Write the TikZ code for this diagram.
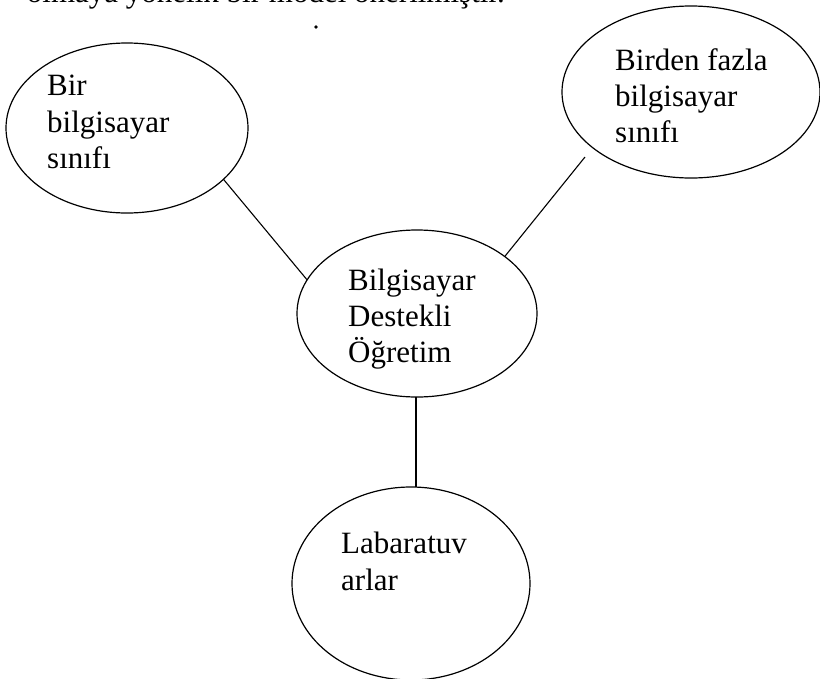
\documentclass[tikz,border=0pt]{standalone}
\usepackage{fontspec}
\setmainfont{Liberation Serif}
\usetikzlibrary{shapes.geometric}
\begin{document}
\begin{tikzpicture}[x=1pt,y=-1pt,
  bubble/.style={draw=black,line width=1.2pt,ellipse,inner sep=0pt,outer sep=0pt},
  lbl/.style={anchor=base west,inner sep=0pt,font=\fontsize{31}{36}\selectfont},
  link/.style={draw=black,line width=1.1pt}]
\useasboundingbox (0,0) rectangle (820,678);
\begin{scope}
\clip (0,0) rectangle (820,678);
% header line cut by the page edge
\node[lbl,anchor=base east] (hdr) at (505,2.5) {olmaya yönelik bir model önerilmiştir.};
\fill (316,27) circle (1.8);
% ellipses
\node[bubble,minimum width=242pt,minimum height=170pt] (tl) at (127,128) {};
\node[bubble,minimum width=258pt,minimum height=172pt] (tr) at (691,92) {};
\node[bubble,minimum width=240pt,minimum height=167pt] (c) at (417,313.5) {};
\node[bubble,minimum width=238pt,minimum height=193pt] (b) at (411,583.5) {};
% texts
\node[lbl] (tl1) at (47,95) {Bir};
\node[lbl] (tl2) at (47,132) {bilgisayar};
\node[lbl] (tl3) at (47,168) {sınıfı};
\node[lbl] (tr1) at (615,70) {Birden fazla};
\node[lbl] (tr2) at (615,106) {bilgisayar};
\node[lbl] (tr3) at (615,142) {sınıfı};
\node[lbl] (c1) at (348,290) {Bilgisayar};
\node[lbl] (c2) at (348,326) {Destekli};
\node[lbl] (c3) at (348,362) {Öğretim};
\node[lbl] (b1) at (341,553) {Labaratuv};
\node[lbl] (b2) at (341,590) {arlar};
% connectors
\coordinate (trend) at (585,157);
\coordinate (ctop) at (416,397);
\coordinate (btop) at (416,487);
\draw[link] (tl.-28) -- (c.163.3);
\draw[link] (c.33.6) -- (trend);
\draw[link] (ctop) -- (btop);
\end{scope}
\end{tikzpicture}
\end{document}
